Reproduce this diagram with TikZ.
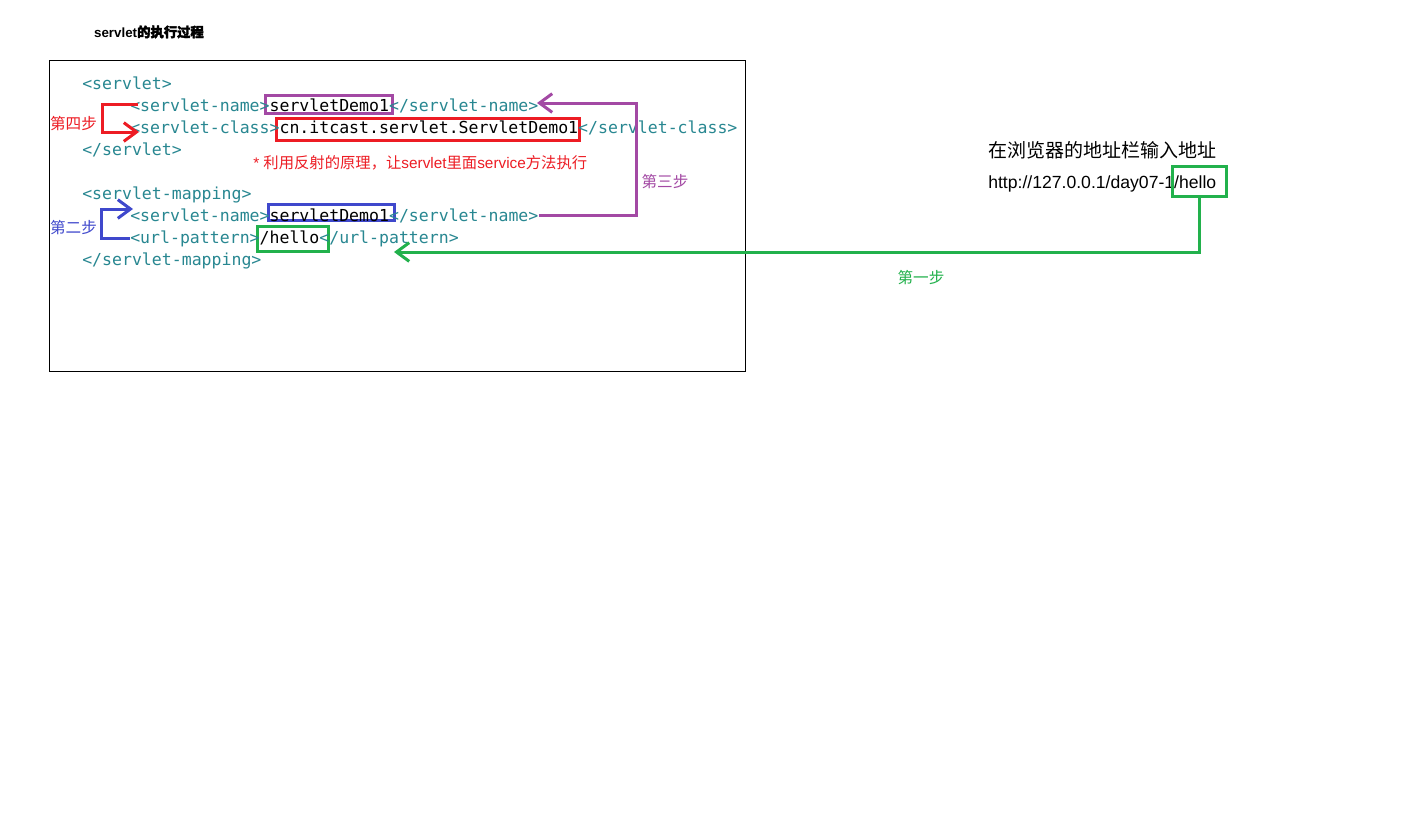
\documentclass[tikz,border=0pt]{standalone}
\usepackage{fontspec}
\setmainfont{Liberation Sans}
\newfontfamily\codefont{DejaVu Sans Mono}
\newfontfamily\cjk{Noto Sans CJK SC}
\newfontfamily\cjkb[FakeBold=2.5]{Noto Sans CJK SC}
\usetikzlibrary{arrows.meta}
\definecolor{tagc}{RGB}{40,135,145}
\definecolor{cpurple}{RGB}{163,73,164}
\definecolor{cred}{RGB}{237,28,36}
\definecolor{cblue}{RGB}{63,72,204}
\definecolor{cgreen}{RGB}{34,177,76}
\tikzset{
  code/.style={anchor=base west,inner sep=0pt,font=\codefont\fontsize{12.4}{15}\selectfont,text=tagc},
  steplabel/.style={inner sep=0pt,font=\cjk\fontsize{11.7}{14}\selectfont},
  hlbox/.style={draw,line width=2.25pt,inner sep=0pt},
  conn/.style={line width=2.25pt,line join=miter,-{Straight Barb[length=9.5pt,width=14pt]}}
}
\begin{document}
\begin{tikzpicture}[x=0.75pt,y=-0.75pt]
\useasboundingbox[fill=white] (0,0) rectangle (1412,819);
% title
\node[inner sep=0pt,font=\fontsize{10}{12}\selectfont\bfseries] (title) at (149,32) {servlet{\cjkb 的执行过程}};
% frame
\draw[line width=0.75pt] (49.5,60.5) rectangle (745.5,371.5);
% highlight boxes (behind text)
\node[hlbox,draw=cpurple,minimum width=95.25pt,minimum height=13.5pt] (pbox) at (328.5,104) {};
\node[hlbox,draw=cred,minimum width=227pt,minimum height=16.5pt] (rbox) at (428,129.5) {};
\node[hlbox,draw=cblue,minimum width=94.5pt,minimum height=12.5pt] (bbox) at (331.5,212.5) {};
\node[hlbox,draw=cgreen,minimum width=53.25pt,minimum height=18.75pt] (gbox) at (293,239) {};
% code lines
\node[code] (l1) at (82,89) {<servlet>};
\node[code] (l2) at (130,111) {<servlet-name>\textcolor{black}{servletDemo1}</servlet-name>};
\node[code] (l3) at (130,133) {<servlet-class>\textcolor{black}{cn.itcast.servlet.ServletDemo1}</servlet-class>};
\node[code] (l4) at (82,155) {</servlet>};
\node[code] (l5) at (82,199) {<servlet-mapping>};
\node[code] (l6) at (130,221) {<servlet-name>\textcolor{black}{servletDemo1}</servlet-name>};
\node[code] (l7) at (130,243) {<url-pattern>\textcolor{black}{/hello}</url-pattern>};
\node[code] (l8) at (82,265) {</servlet-mapping>};
% note
\node[anchor=base west,inner sep=0pt,text=cred,font=\fontsize{11.5}{13}\selectfont] (note) at (253,168) {* {\cjk 利用反射的原理，让}servlet{\cjk 里面}service{\cjk 方法执行}};
% right side
\node[inner sep=0pt,font=\cjk\fontsize{14.25}{17}\selectfont] (addr) at (1102,150) {在浏览器的地址栏输入地址};
\node[anchor=base west,inner sep=0pt,font=\fontsize{13.2}{16}\selectfont] (url) at (988,188) {http://127.0.0.1/day07-1/hello};
\node[hlbox,draw=cgreen,minimum width=40.5pt,minimum height=22.5pt] (ubox) at (1199.5,181.5) {};
% step labels
\node[steplabel,text=cred] (s4) at (73.5,124) {第四步};
\node[steplabel,text=cblue] (s2) at (73.5,228) {第二步};
\node[steplabel,text=cpurple] (s3) at (665,182) {第三步};
\node[steplabel,text=cgreen] (s1) at (921,278) {第一步};
% connectors
\coordinate (r1) at (138,104);
\coordinate (r2) at (102,104);
\coordinate (r3) at (102,132);
\coordinate (r4) at (139,132);
\draw[conn,draw=cred] (r1) -- (r2) -- (r3) -- (r4);
\coordinate (b1) at (130,238);
\coordinate (b2) at (101,238);
\coordinate (b3) at (101,209);
\coordinate (b4) at (133,209);
\draw[conn,draw=cblue] (b1) -- (b2) -- (b3) -- (b4);
\coordinate (p1) at (539,215);
\coordinate (p2) at (636,215);
\coordinate (p3) at (636,103);
\coordinate (p4) at (537,103);
\draw[conn,draw=cpurple] (p1) -- (p2) -- (p3) -- (p4);
\coordinate (g2) at (394,252);
\draw[conn,draw=cgreen] (ubox.south) |- (g2);
\end{tikzpicture}
\end{document}
